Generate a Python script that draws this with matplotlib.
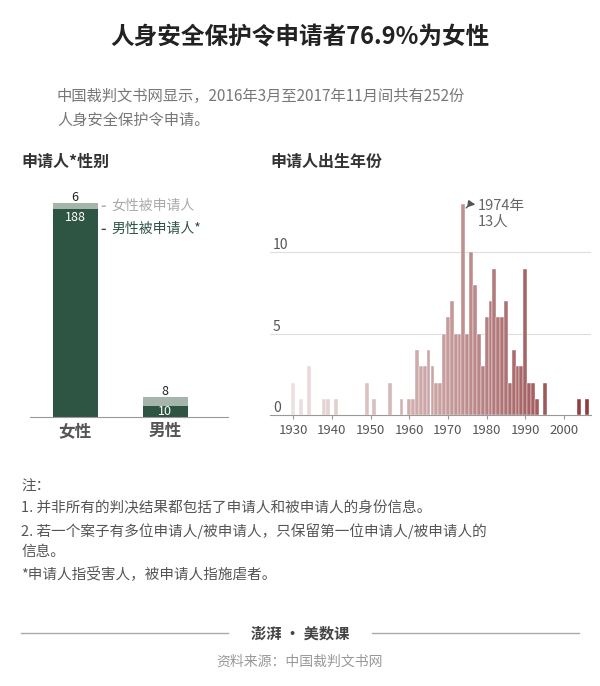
import matplotlib
matplotlib.use("Agg")
import matplotlib.pyplot as plt
import numpy as np
from matplotlib.colors import LinearSegmentedColormap

plt.rcParams['font.family'] = ['Noto Sans CJK SC', 'DejaVu Sans']

genders = ["女性", "男性"]
male_resp = [188, 10]
female_resp = [6, 8]

years = [1930,1932,1934,1938,1939,1941,1949,1951,1955,1958,1960,1961,
         1962,1963,1964,1965,1966,1967,1968,1969,1970,1971,1972,1973,1974,
         1975,1976,1977,1978,1979,1980,1981,1982,1983,1984,1985,1986,1987,1988,1989,1990,
         1991,1992,1993,1995,2004,2006]
counts = [2,1,3,1,1,1,2,1,2,1,1,1,
          4,3,3,4,3,2,2,5,6,7,5,5,13,
          5,10,8,5,3,6,7,9,6,6,7,2,4,3,3,9,
          2,2,1,2,1,1]

fig = plt.figure(figsize=(6, 6.86), dpi=100)
fig.patch.set_facecolor("white")

fig.text(0.5, 0.935, "人身安全保护令申请者76.9%为女性", ha="center", fontsize=17, weight="bold", color="#222")
fig.text(0.095, 0.872, "中国裁判文书网显示，2016年3月至2017年11月间共有252份\n人身安全保护令申请。",
         fontsize=11, color="#777", va="top", linespacing=1.5)
fig.text(0.035, 0.757, "申请人*性别", fontsize=11.5, weight="bold", color="#333")
fig.text(0.45, 0.757, "申请人出生年份", fontsize=11.5, weight="bold", color="#333")

# left
ax1 = fig.add_axes([0.05, 0.392, 0.33, 0.33])
x = np.arange(2)
green, grey = "#2e5444", "#a5b5ab"
ax1.bar(x, male_resp, width=0.5, color=green)
ax1.bar(x, female_resp, bottom=male_resp, width=0.5, color=grey)
ax1.set_xlim(-0.5, 1.7)
ax1.set_ylim(0, 205)
for s in ["top", "right", "left"]:
    ax1.spines[s].set_visible(False)
ax1.spines["bottom"].set_color("#999")
ax1.set_yticks([])
ax1.set_xticks(x)
ax1.set_xticklabels(genders, fontsize=12, weight="bold", color="#555")
ax1.tick_params(axis="x", length=0)
ax1.text(0, male_resp[0] - 1, str(male_resp[0]), ha="center", va="top", color="white", fontsize=9)
ax1.text(0, male_resp[0] + female_resp[0] - 1, str(female_resp[0]), ha="center", va="bottom", color="#222", fontsize=9)
ax1.text(1, male_resp[1] / 2, str(male_resp[1]), ha="center", va="center", color="white", fontsize=9)
ax1.text(1, male_resp[1] + female_resp[1] - 1, str(female_resp[1]), ha="center", va="bottom", color="#222", fontsize=9)
ax1.annotate("女性被申请人", xy=(0.27, 191), xytext=(0.4, 191), fontsize=10, color="#aaa", va="center",
             arrowprops=dict(arrowstyle="-", color="#aaa"))
ax1.annotate("男性被申请人*", xy=(0.27, 170), xytext=(0.4, 170), fontsize=10, color=green, va="center",
             arrowprops=dict(arrowstyle="-", color=green))

# right
ax2 = fig.add_axes([0.45, 0.395, 0.535, 0.32])
cmap = LinearSegmentedColormap.from_list("r", ["#eee0e0", "#c9a0a0", "#8e3a3e"])
cols = [cmap((y - 1930) / 76) for y in years]
ax2.bar(years, counts, width=1.0, color=cols, edgecolor="white", linewidth=0.3)
ax2.set_xlim(1924, 2007)
ax2.set_ylim(0, 13.5)
for s in ["top", "right", "left"]:
    ax2.spines[s].set_visible(False)
ax2.spines["bottom"].set_color("#999")
ax2.set_yticks([0, 5, 10])
ax2.set_yticklabels(["0", "5", "10"], fontsize=10, color="#555")
ax2.tick_params(axis="y", length=0, pad=-2)
for t in ax2.get_yticklabels():
    t.set_horizontalalignment("left")
    t.set_verticalalignment("bottom")
for yv in [5, 10]:
    ax2.axhline(yv, color="#ddd", lw=0.8, zorder=0)
ax2.set_xticks(range(1930, 2001, 10))
ax2.tick_params(axis="x", labelsize=9.5, labelcolor="#555", color="#999", length=3)
ax2.text(1977.8, 13.3, "1974年\n13人", fontsize=10.5, color="#666", va="top")
ax2.annotate("", xy=(1977.8, 12.9), xytext=(1974.3, 12.6),
             arrowprops=dict(arrowstyle="-|>", color="#555", connectionstyle="arc3,rad=-0.4", lw=1))

fig.text(0.035, 0.3, "注：\n1. 并非所有的判决结果都包括了申请人和被申请人的身份信息。\n2. 若一个案子有多位申请人/被申请人，只保留第一位申请人/被申请人的\n信息。\n*申请人指受害人，被申请人指施虐者。",
         fontsize=10.5, color="#555", va="top", linespacing=1.6)

fig.add_artist(plt.Line2D([0.035, 0.38], [0.077, 0.077], color="#aaa", lw=1))
fig.add_artist(plt.Line2D([0.62, 0.965], [0.077, 0.077], color="#aaa", lw=1))
fig.text(0.5, 0.077, "澎湃 · 美数课", ha="center", va="center", fontsize=11, weight="bold", color="#444")
fig.text(0.5, 0.03, "资料来源：中国裁判文书网", ha="center", fontsize=10, color="#999")

fig.savefig("out.png", dpi=100)
